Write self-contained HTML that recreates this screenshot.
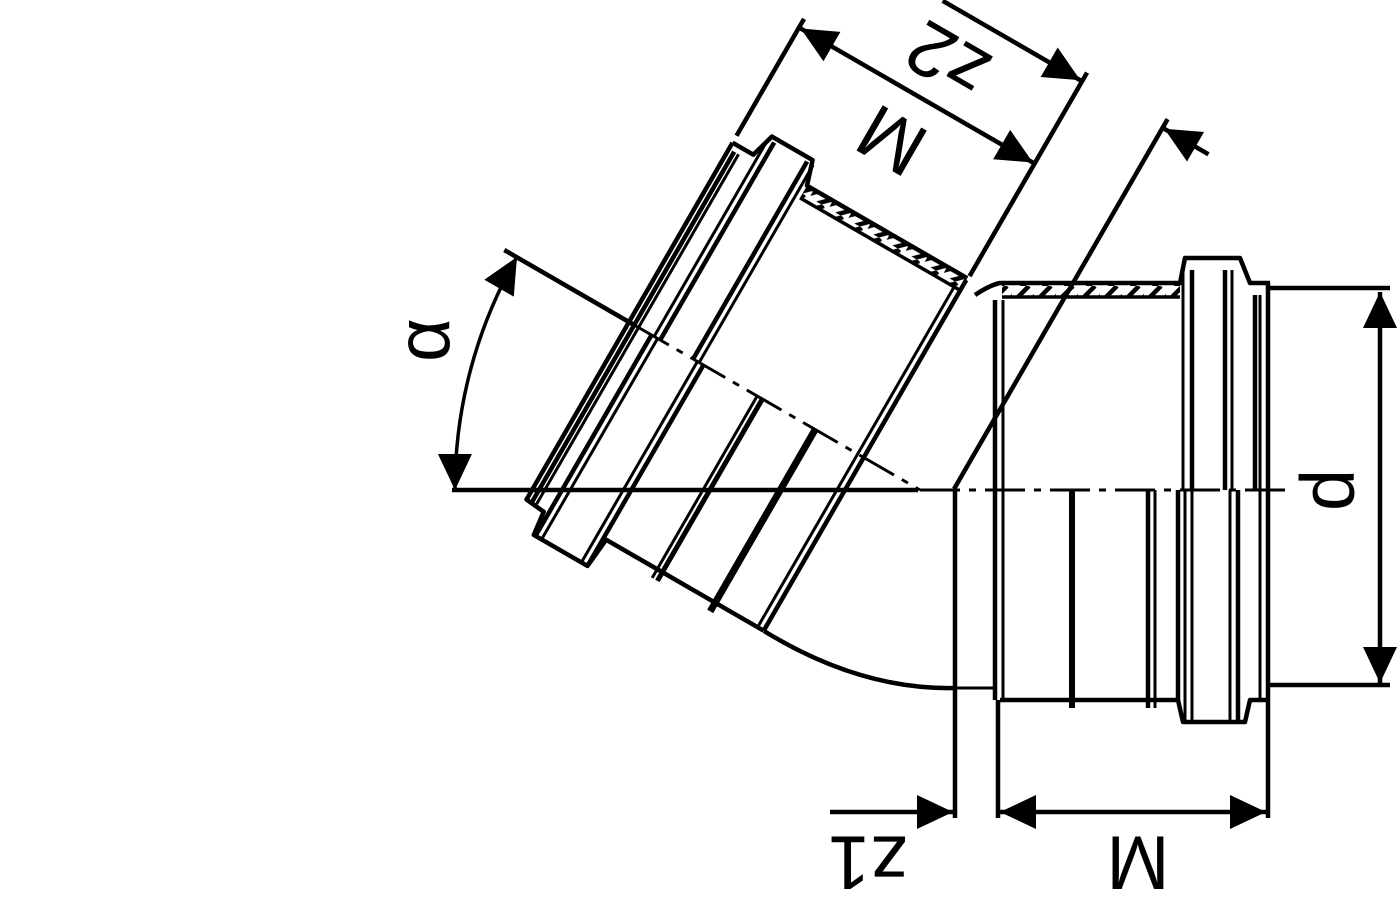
<!DOCTYPE html>
<html><head><meta charset="utf-8"><style>html,body{margin:0;padding:0;background:#fff}svg{display:block}</style></head>
<body>
<svg width="1400" height="900" viewBox="0 0 1400 900" xmlns="http://www.w3.org/2000/svg">
<defs>
<marker id="ar" markerUnits="userSpaceOnUse" markerWidth="40" markerHeight="40" viewBox="-38 -20 40 40" refX="0" refY="0" orient="auto-start-reverse">
<path d="M0,0 L-36,-17 L-36,17 Z" fill="#000"/>
</marker>
<pattern id="hat" patternUnits="userSpaceOnUse" width="22" height="22">
<path d="M-5,22 L17,0 M6,27 L28,5" stroke="#000" stroke-width="4.5"/>
</pattern>
</defs>
<g fill="none" stroke="#000" stroke-width="4.5" stroke-linecap="butt" stroke-linejoin="round">
<line x1="452" y1="490" x2="918" y2="490"/>
<line x1="920" y1="490" x2="1285" y2="490" stroke-width="3" stroke-dasharray="40 9 7 9"/>
<rect x="1002" y="283" width="178" height="14" fill="url(#hat)" stroke="none"/>
<path d="M975,295 Q990,285 1000,283 L1180,283 L1185,258 L1240,258 L1250,283 L1270,283"/>
<path d="M1002,297 L1180,297" stroke-width="3.5"/>
<line x1="995" y1="300" x2="995" y2="700"/>
<line x1="1003" y1="300" x2="1003" y2="700" stroke-width="3"/>
<line x1="1268" y1="283" x2="1268" y2="700"/>
<line x1="1270" y1="288" x2="1390" y2="288"/>
<line x1="1270" y1="685" x2="1390" y2="685"/>
<path d="M1000,700 L1178,700 L1183,722 L1245,722 L1250,700 L1268,700"/>
<line x1="1072" y1="490" x2="1072" y2="708" stroke-width="6"/>
<line x1="1148" y1="490" x2="1148" y2="708"/>
<line x1="1155" y1="490" x2="1155" y2="708" stroke-width="3"/>
<line x1="1178" y1="490" x2="1178" y2="700"/>
<line x1="1185" y1="490" x2="1185" y2="722" stroke-width="3"/>
<line x1="1192" y1="490" x2="1192" y2="722" stroke-width="3"/>
<line x1="1230" y1="490" x2="1230" y2="722" stroke-width="3"/>
<line x1="1238" y1="490" x2="1238" y2="722"/>
<line x1="1183" y1="270" x2="1183" y2="490" stroke-width="3"/>
<line x1="1192" y1="270" x2="1192" y2="490"/>
<line x1="1225" y1="270" x2="1225" y2="490"/>
<line x1="1232" y1="270" x2="1232" y2="490" stroke-width="3"/>
<line x1="1255" y1="295" x2="1255" y2="490"/>
<line x1="1260" y1="295" x2="1260" y2="700" stroke-width="3"/>
<line x1="955" y1="490" x2="955" y2="818"/>
<path d="M955,688 L995,688" stroke-width="3"/>
<line x1="998" y1="700" x2="998" y2="818"/>
<line x1="1268" y1="700" x2="1268" y2="818"/>
<path d="M764,631 Q860,690 955,688"/>
<line x1="1380" y1="292" x2="1380" y2="683" marker-start="url(#ar)" marker-end="url(#ar)"/>
<line x1="1000" y1="812" x2="1266" y2="812" marker-start="url(#ar)" marker-end="url(#ar)"/>
<line x1="830" y1="812" x2="953" y2="812" marker-end="url(#ar)"/>
<path d="M517,257 A465,465 0 0 0 455,490" stroke-width="3.5" marker-start="url(#ar)" marker-end="url(#ar)"/>
<g transform="translate(920,490) rotate(30)">
<line x1="-480" y1="0" x2="-330" y2="0"/>
<line x1="-330" y1="0" x2="0" y2="0" stroke-width="3" stroke-dasharray="40 9 7 9"/>
<rect x="-250" y="-207" width="185" height="14" fill="url(#hat)" stroke="none"/>
<path d="M-65,-207 L-250,-207 L-258,-232 L-305,-232 L-312,-207 L-336,-207"/>
<path d="M-65,-193 L-250,-193" stroke-width="3.5"/>
<path d="M-336,-207 L-336,205 L-315,207 L-312,232 L-250,232 L-247,200 L-65,200"/>
<line x1="-65" y1="-205" x2="-65" y2="200"/>
<line x1="-72" y1="-193" x2="-72" y2="200" stroke-width="3"/>
<line x1="-121" y1="0" x2="-121" y2="210" stroke-width="7"/>
<line x1="-182" y1="0" x2="-182" y2="210" stroke-width="5"/>
<line x1="-188" y1="0" x2="-188" y2="210" stroke-width="3"/>
<line x1="-255" y1="-228" x2="-255" y2="0" stroke-width="3"/>
<line x1="-262" y1="-228" x2="-262" y2="0"/>
<line x1="-300" y1="-228" x2="-300" y2="0"/>
<line x1="-307" y1="-228" x2="-307" y2="0" stroke-width="3"/>
<line x1="-250" y1="0" x2="-250" y2="232"/>
<line x1="-257" y1="0" x2="-257" y2="232" stroke-width="3"/>
<line x1="-303" y1="0" x2="-303" y2="232" stroke-width="3"/>
<line x1="-310" y1="0" x2="-310" y2="232"/>
<line x1="-325" y1="-200" x2="-325" y2="205" stroke-width="3"/>
<line x1="-330" y1="-200" x2="-330" y2="205"/>
<line x1="-336" y1="-215" x2="-336" y2="-350"/>
<line x1="-64" y1="-210" x2="-64" y2="-445"/>
<line x1="29" y1="-18" x2="29" y2="-445"/>
<line x1="-334" y1="-340" x2="-66" y2="-340" marker-start="url(#ar)" marker-end="url(#ar)"/>
<line x1="-225" y1="-435" x2="-66" y2="-435" marker-end="url(#ar)"/>
<line x1="82" y1="-435" x2="31" y2="-435" marker-end="url(#ar)"/>
</g>
</g>
<g font-family="Liberation Sans, sans-serif" font-size="76" fill="#000" text-anchor="middle" dominant-baseline="central">
<text transform="translate(1328,490) rotate(-90)">d</text>
<text transform="translate(424,340) rotate(-90)">α</text>
<text transform="translate(1138,862) rotate(180)">M</text>
<text transform="translate(868,862) rotate(180)">z1</text>
<text transform="translate(892,140) rotate(210)">M</text>
<text transform="translate(948,60) rotate(210)">z2</text>
</g>
</svg>
</body></html>
